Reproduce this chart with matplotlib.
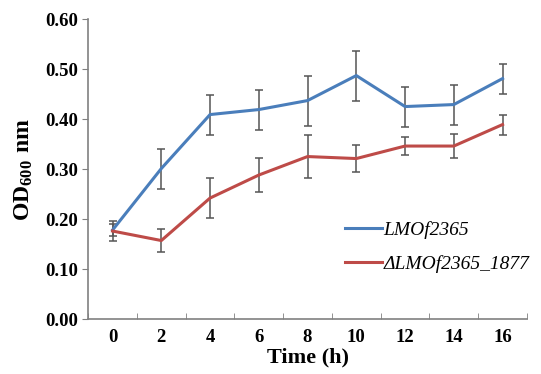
import matplotlib
matplotlib.use("Agg")
import matplotlib.pyplot as plt

plt.rcParams['font.family'] = ['Liberation Serif', 'DejaVu Serif']
plt.rcParams['mathtext.fontset'] = 'custom'
plt.rcParams['mathtext.rm'] = 'Liberation Serif:bold'
plt.rcParams['mathtext.bf'] = 'Liberation Serif:bold'

# growth curve data
hours = [0, 2, 4, 6, 8, 10, 12, 14, 16]
wt = [0.178, 0.301, 0.409, 0.419, 0.437, 0.487, 0.425, 0.429, 0.481]
wt_err = [0.012, 0.040, 0.040, 0.040, 0.050, 0.050, 0.040, 0.040, 0.030]
mut = [0.176, 0.157, 0.242, 0.288, 0.325, 0.321, 0.346, 0.346, 0.389]
mut_err = [0.020, 0.023, 0.040, 0.034, 0.043, 0.027, 0.018, 0.024, 0.020]
names = ["LMOf2365", "ΔLMOf2365_1877"]

fig = plt.figure(figsize=(5.41, 3.74), dpi=100)
ax = fig.add_axes([0.163, 0.147, 0.811, 0.802])

ax.errorbar(hours, wt, yerr=wt_err, color="#4A7EBB", lw=2.2, ecolor="#555555",
            elinewidth=1.1, capsize=3, capthick=1.1, label=names[0])
ax.errorbar(hours, mut, yerr=mut_err, color="#BE4B48", lw=2.2, ecolor="#555555",
            elinewidth=1.1, capsize=3, capthick=1.1, label=names[1])

ax.set_xlim(-1, 17)
ax.set_ylim(0, 0.6)
ax.set_yticks([0, 0.1, 0.2, 0.3, 0.4, 0.5, 0.6])
ax.set_yticklabels(["%.2f" % v for v in ax.get_yticks()])
ax.set_xticks(hours)
ax.set_xticks([h + 1 for h in [-2] + hours], minor=True)
ax.tick_params(axis="x", which="major", length=0, pad=7)
ax.tick_params(axis="x", which="minor", direction="in", length=4, color="#808080")
ax.tick_params(axis="y", direction="out", length=4, color="#808080")
ax.tick_params(labelsize=13.5)
for lab in ax.get_xticklabels() + ax.get_yticklabels():
    lab.set_fontweight("bold")

for s in ["top", "right"]:
    ax.spines[s].set_visible(False)
for s in ["left", "bottom"]:
    ax.spines[s].set_color("#808080")
    ax.spines[s].set_linewidth(1.2)

ax.set_xlabel("Time (h)", fontsize=16, fontweight="bold", labelpad=1)
ax.set_ylabel(r"$\mathbf{OD_{600}\ nm}$", fontsize=17, labelpad=7)

handles, labels = ax.get_legend_handles_labels()
handles = [h[0] for h in handles]
leg = ax.legend(handles, labels, loc="center left", bbox_to_anchor=(0.545, 0.24),
                frameon=False, prop={"style": "italic", "size": 14},
                handlelength=1.9, handletextpad=0.1, labelspacing=0.85)

fig.savefig("out.png", dpi=100)
